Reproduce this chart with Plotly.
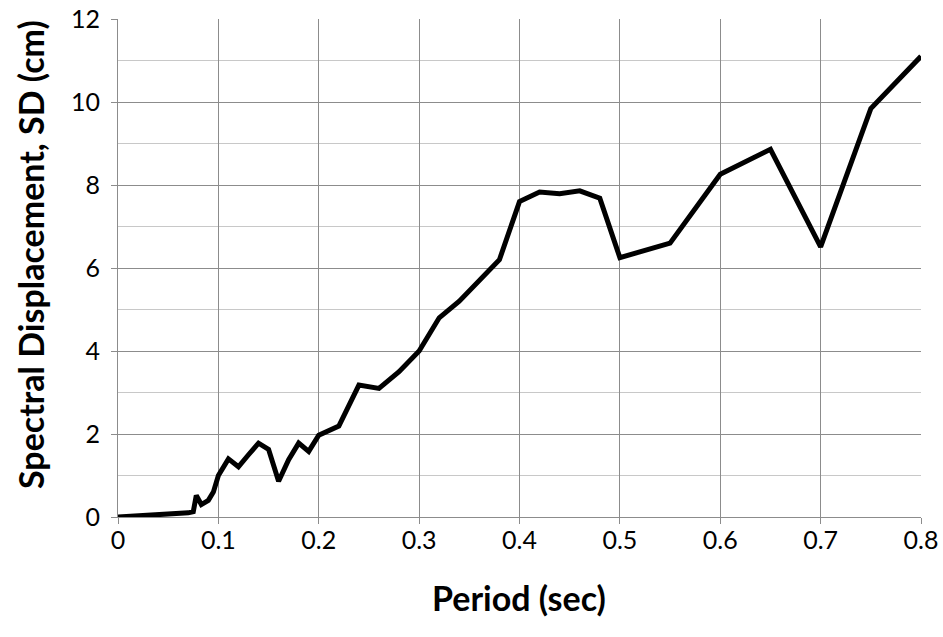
import plotly.graph_objects as go

period = [0, 0.02, 0.04, 0.06, 0.07, 0.075, 0.078, 0.083, 0.09, 0.095, 0.1,
          0.11, 0.12, 0.13, 0.14, 0.15, 0.16, 0.17, 0.18, 0.19, 0.2,
          0.22, 0.24, 0.26, 0.28, 0.3, 0.32, 0.34, 0.36, 0.38, 0.4,
          0.42, 0.44, 0.46, 0.48, 0.5, 0.55, 0.6, 0.65, 0.7, 0.75, 0.8]
sd = [0, 0.02, 0.05, 0.06, 0.1, 0.13, 0.52, 0.3, 0.4, 0.6, 1.0,
      1.4, 1.21, 1.5, 1.78, 1.63, 0.86, 1.38, 1.78, 1.58, 1.97,
      2.19, 3.18, 3.1, 3.5, 4.0, 4.8, 5.2, 5.71, 6.2, 7.6,
      7.83, 7.79, 7.86, 7.68, 6.25, 6.6, 8.26, 8.86, 6.51, 9.84, 11.1]

x_ticks = [0, 0.1, 0.2, 0.3, 0.4, 0.5, 0.6, 0.7, 0.8]
x_labels = ["0", "0.1", "0.2", "0.3", "0.4", "0.5", "0.6", "0.7", "0.8"]
y_ticks = [0, 2, 4, 6, 8, 10, 12]
y_labels = ["0", "2", "4", "6", "8", "10", "12"]
x_title = "Period (sec)"
y_title = "Spectral Displacement, SD (cm)"

FONT = "Lato"
grid = "#8c8c8c"

fig = go.Figure()
fig.add_trace(go.Scatter(x=period, y=sd, mode="lines",
                         line=dict(color="black", width=5), showlegend=False,
                         cliponaxis=False, hoverinfo="skip"))

W, H = 943, 637
L, T, R, B = 118, 19, 22, 120
pw = W - L - R
ph = H - T - B
OX, OY0 = L, H - B  # page coords of plot origin

fig.update_layout(
    width=W, height=H,
    margin=dict(l=L, r=R, t=T, b=B, autoexpand=False),
    paper_bgcolor="white", plot_bgcolor="white",
    font=dict(family=FONT, size=25, color="black"),
    xaxis=dict(
        range=[0, 0.8], tickvals=x_ticks, ticktext=x_labels,
        showgrid=True, gridcolor=grid, gridwidth=1,
        showline=True, linecolor=grid, linewidth=1,
        ticks="outside", ticklen=6, tickcolor=grid,
        zeroline=False, automargin=False, ticklabelstandoff=-5,
        ticklabeloverflow="allow",
    ),
    yaxis=dict(
        range=[0, 12], tickvals=y_ticks, ticktext=y_labels,
        showgrid=True, gridcolor=grid, gridwidth=1,
        showline=True, linecolor=grid, linewidth=1,
        ticks="outside", ticklen=6, tickcolor=grid,
        zeroline=False, automargin=False, ticklabelstandoff=6,
        ticklabeloverflow="allow",
        minor=dict(dtick=1, showgrid=True, gridcolor="#c8c8c8", gridwidth=1, ticks=""),
    ),
    annotations=[
        dict(text="<b>%s</b>" % x_title, xref="paper", yref="paper",
             x=(519 - OX) / pw, y=-(597 - OY0) / ph, xanchor="center", yanchor="middle",
             showarrow=False, font=dict(family=FONT, size=34)),
        dict(text="<b>%s</b>" % y_title, xref="paper", yref="paper",
             x=-(OX - 30) / pw, y=(OY0 - 255) / ph, xanchor="center", yanchor="middle",
             textangle=-90, showarrow=False, font=dict(family=FONT, size=34)),
    ],
)

fig.write_html("out.html", config={"displayModeBar": False},
               post_script="document.body.style.margin='0';document.documentElement.style.overflow='hidden';")
